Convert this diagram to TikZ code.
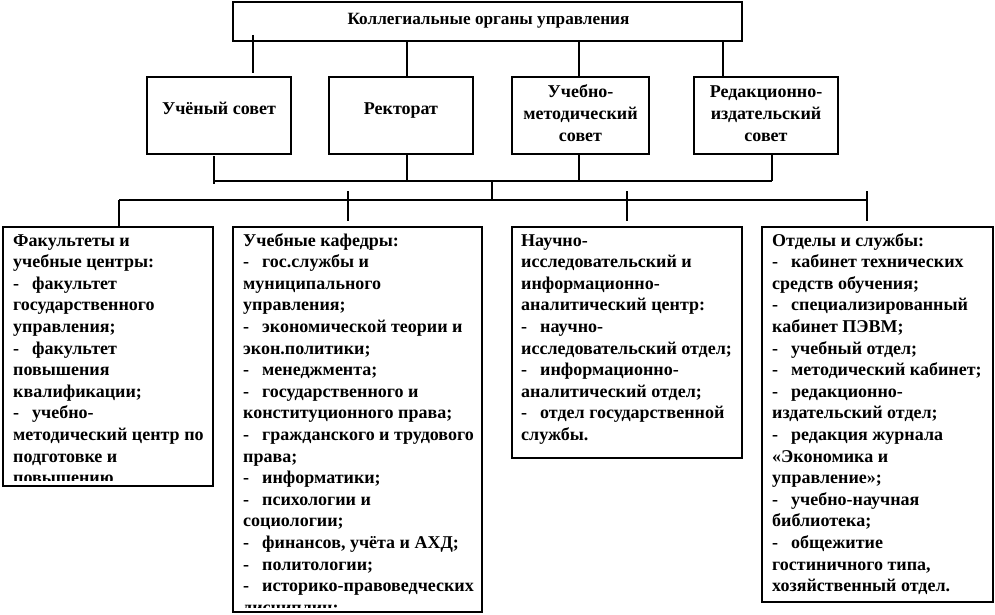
\documentclass[tikz,border=0pt]{standalone}
\usepackage{fontspec}
\setmainfont{Liberation Serif}[BoldFont={Liberation Serif Bold}]
\newcommand\blist[1]{\vtop{\baselineskip=21.6pt\lineskiplimit=-30pt\lineskip=0pt #1}}
\newcommand\LL[1]{\hbox{#1}}
\newcommand\cl[1]{\hbox to 0pt{\hss#1\hss}}
\newcommand\dd{\makebox[19pt][l]{-}}
\tikzset{
  box/.style={draw, line width=1.2pt, inner sep=0pt, outer sep=0pt, anchor=north west},
  conn/.style={line width=1.2pt},
  txt/.style={inner sep=0pt, anchor=base, font=\rmfamily\bfseries\fontsize{18}{21.6}\selectfont},
  listtxt/.style={inner sep=0pt, anchor=base west, font=\rmfamily\bfseries\fontsize{18}{21.6}\selectfont},
}
\begin{document}
\begin{tikzpicture}[x=1pt,y=-1pt]
\useasboundingbox (0,0) rectangle (995,615);
% boxes
\node[box, minimum width=509, minimum height=39] (top) at (233,2) {};
\node[box, minimum width=144, minimum height=77] (us) at (147,77) {};
\node[box, minimum width=144, minimum height=77] (rk) at (329,77) {};
\node[box, minimum width=137, minimum height=77] (um) at (512,77) {};
\node[box, minimum width=144, minimum height=77] (ri) at (694,77) {};
\node[box, minimum width=210, minimum height=259] (b1) at (3,227) {};
\node[box, minimum width=249, minimum height=385] (b2) at (233,227) {};
\node[box, minimum width=230, minimum height=231] (b3) at (512,227) {};
\node[box, minimum width=231, minimum height=375] (b4) at (762,227) {};
% top texts
\node[txt, font=\rmfamily\bfseries\fontsize{17.2}{21}\selectfont] (ttop) at (488.5,25) {Коллегиальные органы управления};
\node[txt] (tus) at (219,115) {Учёный совет};
\node[txt] (trk) at (401,115) {Ректорат};
\node[txt] (tum) at (580.5,98) {\blist{\cl{Учебно-}\cl{методический}\cl{совет}}};
\node[txt] (tri) at (766,98) {\blist{\cl{Редакционно-}\cl{издательский}\cl{совет}}};
% connectors top
\coordinate (k1a) at (253,35);
\coordinate (k1b) at (253,73);
\draw[conn] (k1a) -- (k1b);
\draw[conn] (407,0 |- top.south) -- (407,0 |- rk.north);
\draw[conn] (579,0 |- top.south) -- (579,0 |- um.north);
\draw[conn] (723,0 |- top.south) -- (723,0 |- ri.north);
% bus 1
\coordinate (bus1l) at (214,181);
\coordinate (bus1r) at (772,181);
\coordinate (bus1m) at (492,181);
\draw[conn] (214,156) -- (214,184);
\draw[conn] (407,0 |- rk.south) -- (407,0 |- bus1l);
\draw[conn] (579,0 |- um.south) -- (579,0 |- bus1l);
\draw[conn] (772,0 |- ri.south) -- (bus1r);
\draw[conn] (bus1l) -- (bus1r);
% bus 2
\coordinate (bus2l) at (119,200);
\coordinate (bus2r) at (867,200);
\draw[conn] (bus1m) -- (492,0 |- bus2l);
\draw[conn] (bus2l) -- (bus2r);
\draw[conn] (bus2l) -- (119,0 |- b1.north);
\draw[conn] (348,191) -- (348,221);
\draw[conn] (627,191) -- (627,221);
\draw[conn] (867,191) -- (867,221);
% list texts
\begin{scope}
\clip ([yshift=6pt]b1.south west) rectangle (b1.north east);
\node[listtxt] (t1) at (13,246) {\blist{%
\LL{Факультеты и}
\LL{учебные центры:}
\LL{\dd факультет}
\LL{государственного}
\LL{управления;}
\LL{\dd факультет}
\LL{повышения}
\LL{квалификации;}
\LL{\dd учебно-}
\LL{методический центр по}
\LL{подготовке и}
\LL{повышению}}};
\end{scope}
\begin{scope}
\clip ([yshift=5pt]b2.south west) rectangle (b2.north east);
\node[listtxt] (t2) at (243,246) {\blist{%
\LL{Учебные кафедры:}
\LL{\dd гос.службы и}
\LL{муниципального}
\LL{управления;}
\LL{\dd экономической теории и}
\LL{экон.политики;}
\LL{\dd менеджмента;}
\LL{\dd государственного и}
\LL{конституционного права;}
\LL{\dd гражданского и трудового}
\LL{права;}
\LL{\dd информатики;}
\LL{\dd психологии и}
\LL{социологии;}
\LL{\dd финансов, учёта и АХД;}
\LL{\dd политологии;}
\LL{\dd историко-правоведческих}
\LL{дисциплин;}}};
\end{scope}
\node[listtxt] (t3) at (521,246) {\blist{%
\LL{Научно-}
\LL{исследовательский и}
\LL{информационно-}
\LL{аналитический центр:}
\LL{\dd научно-}
\LL{исследовательский отдел;}
\LL{\dd информационно-}
\LL{аналитический отдел;}
\LL{\dd отдел государственной}
\LL{службы.}}};
\node[listtxt] (t4) at (772,246) {\blist{%
\LL{Отделы и службы:}
\LL{\dd кабинет технических}
\LL{средств обучения;}
\LL{\dd специализированный}
\LL{кабинет ПЭВМ;}
\LL{\dd учебный отдел;}
\LL{\dd методический кабинет;}
\LL{\dd редакционно-}
\LL{издательский отдел;}
\LL{\dd редакция журнала}
\LL{«Экономика и}
\LL{управление»;}
\LL{\dd учебно-научная}
\LL{библиотека;}
\LL{\dd общежитие}
\LL{гостиничного типа,}
\LL{хозяйственный отдел.}}};
\end{tikzpicture}
\end{document}
